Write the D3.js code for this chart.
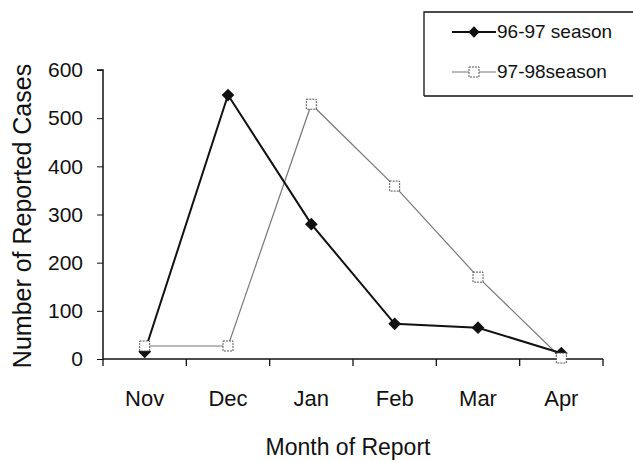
<!DOCTYPE html>
<html><head><meta charset="utf-8">
<script src="https://cdn.jsdelivr.net/npm/d3@7"></script>
<style>body{margin:0;background:#fff}svg{display:block}text{font-family:"Liberation Sans",Arial,sans-serif;fill:#111}</style>
</head><body><svg id="c" width="633" height="462"></svg>
<script>
const months = ["Nov","Dec","Jan","Feb","Mar","Apr"];
const season9697 = [15, 548, 280, 73, 65, 12];
const season9798 = [27, 27, 529, 359, 170, 2];
const yTicks = [0,100,200,300,400,500,600];
const seriesNames = ["96-97 season","97-98season"];

const svg = d3.select("#c");
const x = d3.scaleBand().domain(months).range([103,603]);
const y = d3.scaleLinear().domain([0,600]).range([359,70]);

// y axis
const ya = svg.append("g").attr("transform","translate(103,0)")
  .call(d3.axisLeft(y).tickValues(yTicks).tickSize(6).tickPadding(14));
ya.select(".domain").attr("stroke","#111").attr("stroke-width",1.5).attr("d","M-6,70H0V359");
ya.selectAll(".tick line").attr("stroke","#111");
ya.selectAll(".tick text").style("font-size","21px").attr("fill","#111");

// x axis
const xa = svg.append("g").attr("transform","translate(0,359)")
  .call(d3.axisBottom(x).tickSize(0).tickPadding(31));
xa.select(".domain").attr("stroke","#111").attr("stroke-width",1.5).attr("d","M103,0H603");
xa.selectAll(".tick text").style("font-size","22px").attr("fill","#111");
const bounds = months.map(m=>x(m)).concat([x.range()[1]]);
svg.append("g").selectAll("line").data(bounds).join("line")
  .attr("x1",d=>d).attr("x2",d=>d).attr("y1",359).attr("y2",366).attr("stroke","#111").attr("stroke-width",1.3);

const cx = m => x(m) + x.bandwidth()/2;
const line = d3.line().x((d,i)=>cx(months[i])).y(d=>y(d));

// series 97-98
svg.append("path").datum(season9798).attr("d",line).attr("fill","none").attr("stroke","#777").attr("stroke-width",1.2);
// series 96-97
svg.append("path").datum(season9697).attr("d",line).attr("fill","none").attr("stroke","#111").attr("stroke-width",2);
svg.append("g").selectAll("rect").data(season9697).join("rect")
  .attr("transform",(d,i)=>`translate(${cx(months[i])},${y(d)}) rotate(45)`)
  .attr("x",-4.5).attr("y",-4.5).attr("width",9).attr("height",9).attr("fill","#111");
svg.append("g").selectAll("rect").data(season9798).join("rect")
  .attr("x",(d,i)=>cx(months[i])-5).attr("y",d=>y(d)-5).attr("width",10).attr("height",10)
  .attr("fill","#fff").attr("stroke","#555").attr("stroke-width",1).attr("stroke-dasharray","2,1");

// axis titles
svg.append("text").attr("transform","translate(31,216) rotate(-90)").attr("text-anchor","middle")
  .style("font-size","25px").text("Number of Reported Cases");
svg.append("text").attr("x",348).attr("y",455).attr("text-anchor","middle")
  .style("font-size","23px").text("Month of Report");

// legend
const lg = svg.append("g");
lg.append("path").attr("d","M424,96V12H640").attr("fill","none").attr("stroke","#111").attr("stroke-width",1.3);
lg.append("path").attr("d","M424,96H640").attr("fill","none").attr("stroke","#111").attr("stroke-width",1.3);
lg.append("line").attr("x1",452).attr("x2",496).attr("y1",32).attr("y2",32).attr("stroke","#111").attr("stroke-width",2);
lg.append("rect").attr("transform","translate(474,32) rotate(45)").attr("x",-4).attr("y",-4).attr("width",8).attr("height",8).attr("fill","#111");
lg.append("line").attr("x1",452).attr("x2",496).attr("y1",72).attr("y2",72).attr("stroke","#777").attr("stroke-width",1.2);
lg.append("rect").attr("x",469).attr("y",67).attr("width",10).attr("height",10).attr("fill","#fff").attr("stroke","#555").attr("stroke-dasharray","2,1");
lg.append("text").attr("x",497).attr("y",38).style("font-size","19px").text(seriesNames[0]);
lg.append("text").attr("x",497).attr("y",78).style("font-size","19px").text(seriesNames[1]);
</script></body></html>
